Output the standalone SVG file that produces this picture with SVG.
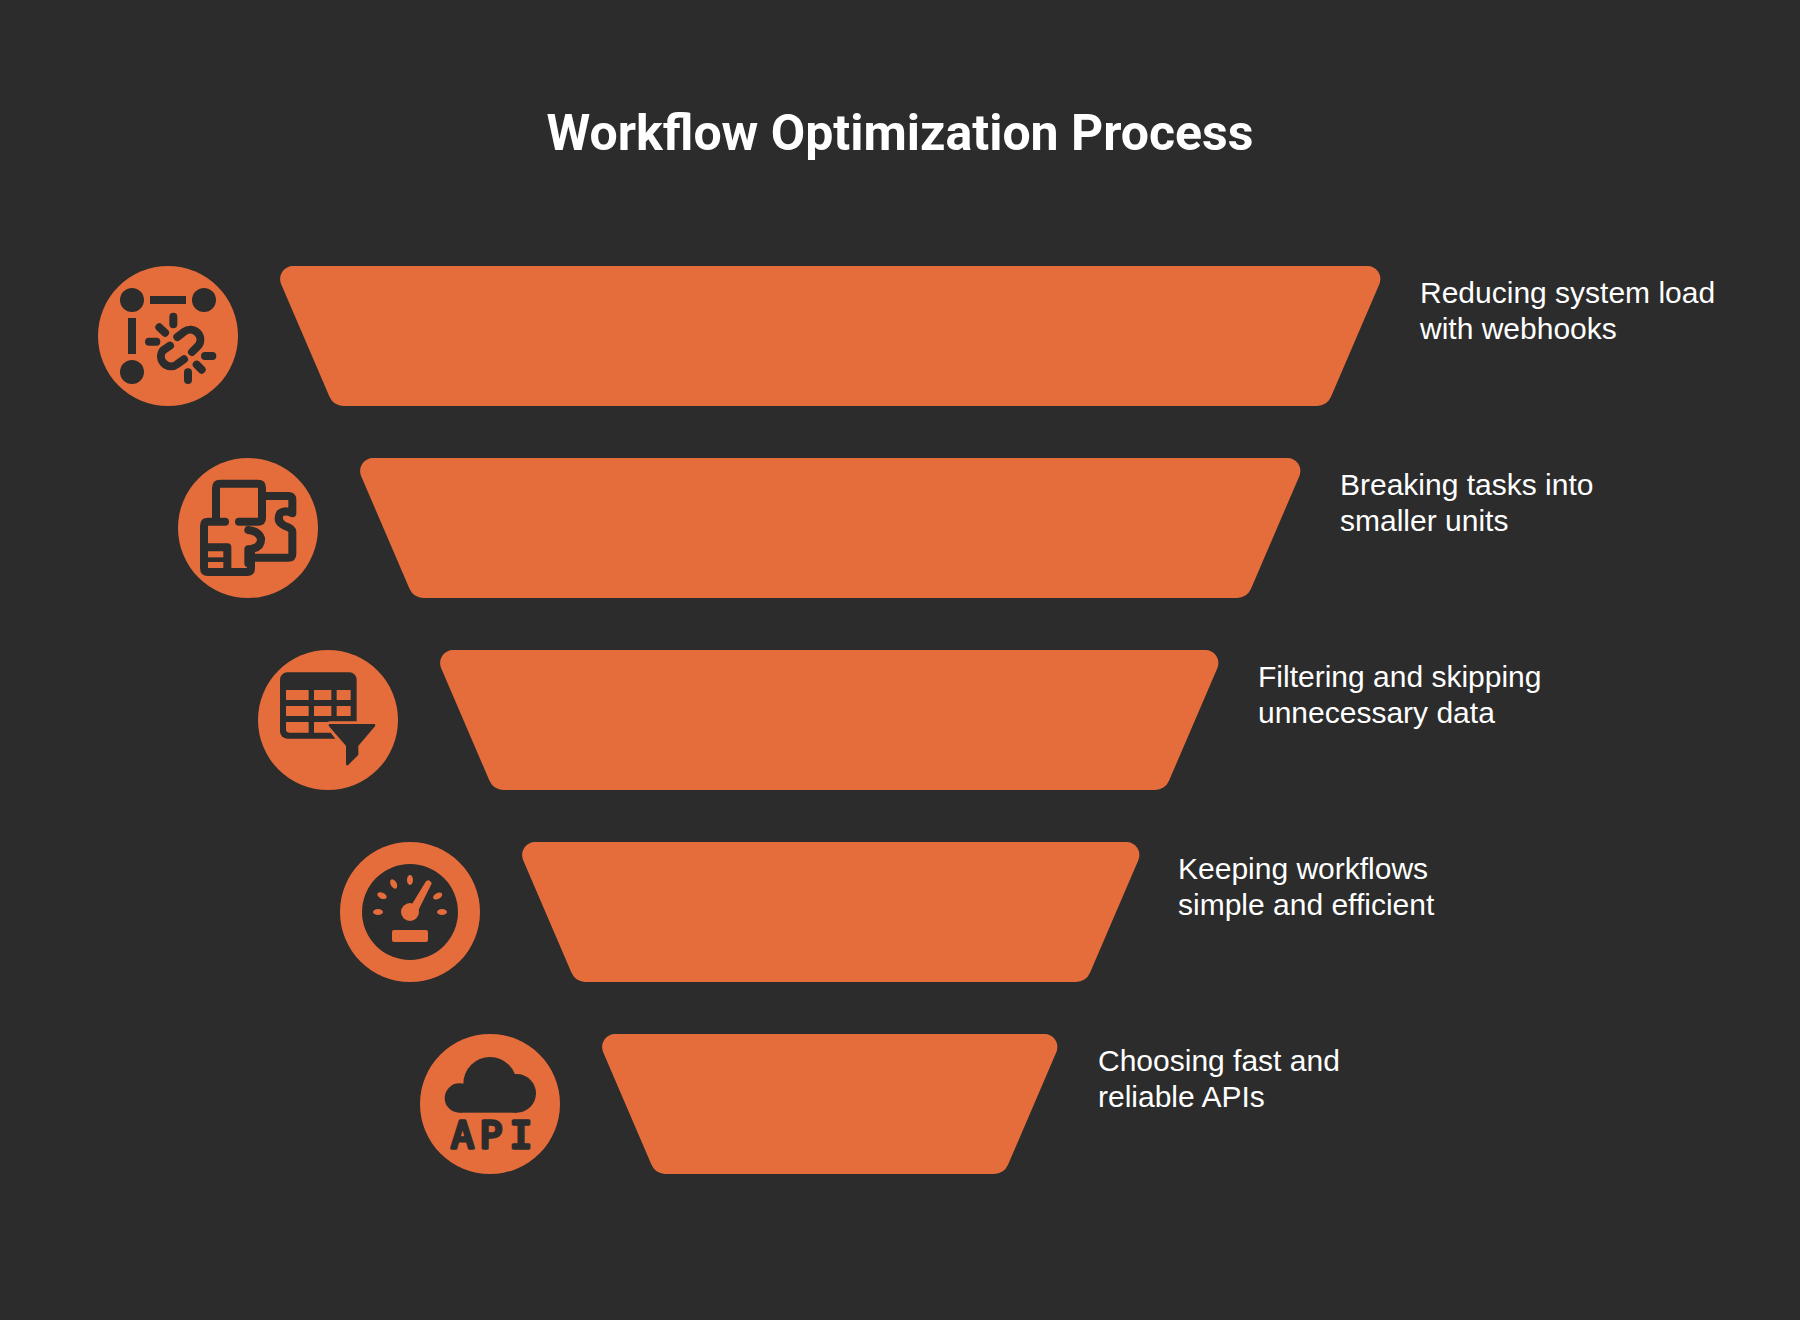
<svg xmlns="http://www.w3.org/2000/svg" width="1800" height="1320" viewBox="0 0 1800 1320">
<style>
.o{fill:#e56d3b}.d{fill:#2c2c2c}
.l{stroke:#2c2c2c;stroke-width:24;stroke-linecap:round;stroke-linejoin:round;fill:none}
.lbl{font-family:"Liberation Sans",Arial,sans-serif;font-size:30px;fill:#fff}
.title{font-family:Roboto,"Liberation Sans",sans-serif;font-weight:700;font-size:50px;fill:#fff;text-anchor:middle}
</style>
<rect width="1800" height="1320" fill="#2c2c2c"/>
<text class="title" x="900" y="150">Workflow Optimization Process</text>
<g id="step1">
<path class="o" d="M293.500 266h1073.500a13 13 0 0 1 12.200 18.400l-48.200 112.400a15 15 0 0 1-14 9.200h-973.500a15 15 0 0 1-14-9.200l-48.200-112.400a13 13 0 0 1 12.200-18.400z"/>
<circle class="o" cx="168" cy="336" r="70"/>
<g transform="translate(90 255) scale(.33333)">
<circle class="d" cx="126" cy="135" r="36"/><circle class="d" cx="342" cy="135" r="36"/><circle class="d" cx="126" cy="351" r="36"/>
<rect class="d" x="180" y="123" width="108" height="24"/><rect class="d" x="114" y="189" width="24" height="108"/>
<path class="l" d="M262 246L283 230A30 30 0 0 1 325 272L306 291M240 272L219 286A30 30 0 0 0 261 328L282 313M250 185V208M208 217L225 233M177 260H199M345 303H367M320 329L335 344M294 352V375"/>
</g>
<text class="lbl" x="1420" y="303">Reducing system load</text><text class="lbl" x="1420" y="339">with webhooks</text>
</g>
<g id="step2">
<path class="o" d="M373.500 458h913.500a13 13 0 0 1 12.200 18.400l-48.200 112.400a15 15 0 0 1-14 9.200h-813.500a15 15 0 0 1-14-9.200l-48.200-112.400a13 13 0 0 1 12.200-18.400z"/>
<circle class="o" cx="248" cy="528" r="70"/>
<g transform="translate(170 450) scale(.33333)">
<path class="l" d="M138 205V114Q138 101 151 101H264Q276 101 276 114V204Q276 215 264 215H207"/>
<path class="l" d="M165 215H114Q102 215 102 228V354Q102 366 114 366H231Q243 366 243 354V304"/>
<path class="l" d="M288 138H355Q367 138 367 150V190Q345 178 330 190Q318 215 345 228Q367 235 367 245V312Q367 323 355 323H255"/>
<path class="l" d="M235 240Q265 243 273 265Q275 295 235 298V340M112 292H172V358"/>
<rect class="d" x="102" y="322" width="70" height="14"/>
</g>
<text class="lbl" x="1340" y="495">Breaking tasks into</text><text class="lbl" x="1340" y="531">smaller units</text>
</g>
<g id="step3">
<path class="o" d="M453.500 650h751.500a13 13 0 0 1 12.200 18.400l-48.200 112.400a15 15 0 0 1-14 9.200h-651.500a15 15 0 0 1-14-9.200l-48.200-112.400a13 13 0 0 1 12.200-18.400z"/>
<circle class="o" cx="328" cy="720" r="70"/>
<g transform="translate(250 640) scale(.33333)">
<rect class="d" x="90" y="97" width="230" height="199" rx="22"/>
<path class="o" d="M108 150h68v30h-68zM192 150h52v30h-52zM260 150h42v30h-42zM108 198h68v30h-68zM192 198h52v30h-52zM260 198h42v30h-42zM108 246h68v32h-58q-10 0-10-10zM192 246h52v32h-52z"/>
<path class="o" stroke="#e56d3b" stroke-width="24" stroke-linejoin="round" d="M240 256H372L325 318V345L288 382V318Z"/>
<path class="d" stroke="#2c2c2c" stroke-width="8" stroke-linejoin="round" d="M240 256H372L321 316V343L292 372V316Z"/>
</g>
<text class="lbl" x="1258" y="687">Filtering and skipping</text><text class="lbl" x="1258" y="723">unnecessary data</text>
</g>
<g id="step4">
<path class="o" d="M535.500 842h590.500a13 13 0 0 1 12.200 18.400l-48.200 112.400a15 15 0 0 1-14 9.200h-490.500a15 15 0 0 1-14-9.200l-48.200-112.400a13 13 0 0 1 12.200-18.400z"/>
<circle class="o" cx="410" cy="912" r="70"/>
<g transform="translate(330 830) scale(.33333)">
<circle class="d" cx="240" cy="246" r="144"/>
<circle class="o" cx="240" cy="246" r="27"/>
<path class="o" stroke="#e56d3b" stroke-width="6" stroke-linejoin="round" d="M248 225L290 156Q298 150 302 160L262 240Z"/>
<ellipse class="o" cx="144" cy="246" rx="15" ry="9"/><ellipse class="o" cx="336" cy="246" rx="15" ry="9"/>
<ellipse class="o" cx="156" cy="197" rx="15" ry="9" transform="rotate(25 156 197)"/><ellipse class="o" cx="323" cy="198" rx="15" ry="9" transform="rotate(-30 323 198)"/>
<ellipse class="o" cx="191" cy="162" rx="15" ry="9" transform="rotate(62 191 162)"/><ellipse class="o" cx="240" cy="150" rx="9" ry="15"/>
<rect class="o" x="186" y="300" width="108" height="36" rx="6"/>
</g>
<text class="lbl" x="1178" y="879">Keeping workflows</text><text class="lbl" x="1178" y="915">simple and efficient</text>
</g>
<g id="step5">
<path class="o" d="M615.500 1034h428.500a13 13 0 0 1 12.200 18.400l-48.200 112.400a15 15 0 0 1-14 9.200h-328.500a15 15 0 0 1-14-9.200l-48.200-112.400a13 13 0 0 1 12.200-18.400z"/>
<circle class="o" cx="490" cy="1104" r="70"/>
<g transform="translate(410 1025) scale(.33333)">
<circle class="d" cx="148" cy="219" r="44"/><circle class="d" cx="240" cy="176" r="80"/><circle class="d" cx="320" cy="205" r="58"/><rect class="d" x="148" y="200" width="172" height="63"/>
<text x="157 243 333" y="370" font-family="'DejaVu Sans Mono',monospace" font-size="114" text-anchor="middle" class="d" stroke="#2c2c2c" stroke-width="10" stroke-linejoin="round">API</text>
</g>
<text class="lbl" x="1098" y="1071">Choosing fast and</text><text class="lbl" x="1098" y="1107">reliable APIs</text>
</g>
</svg>
